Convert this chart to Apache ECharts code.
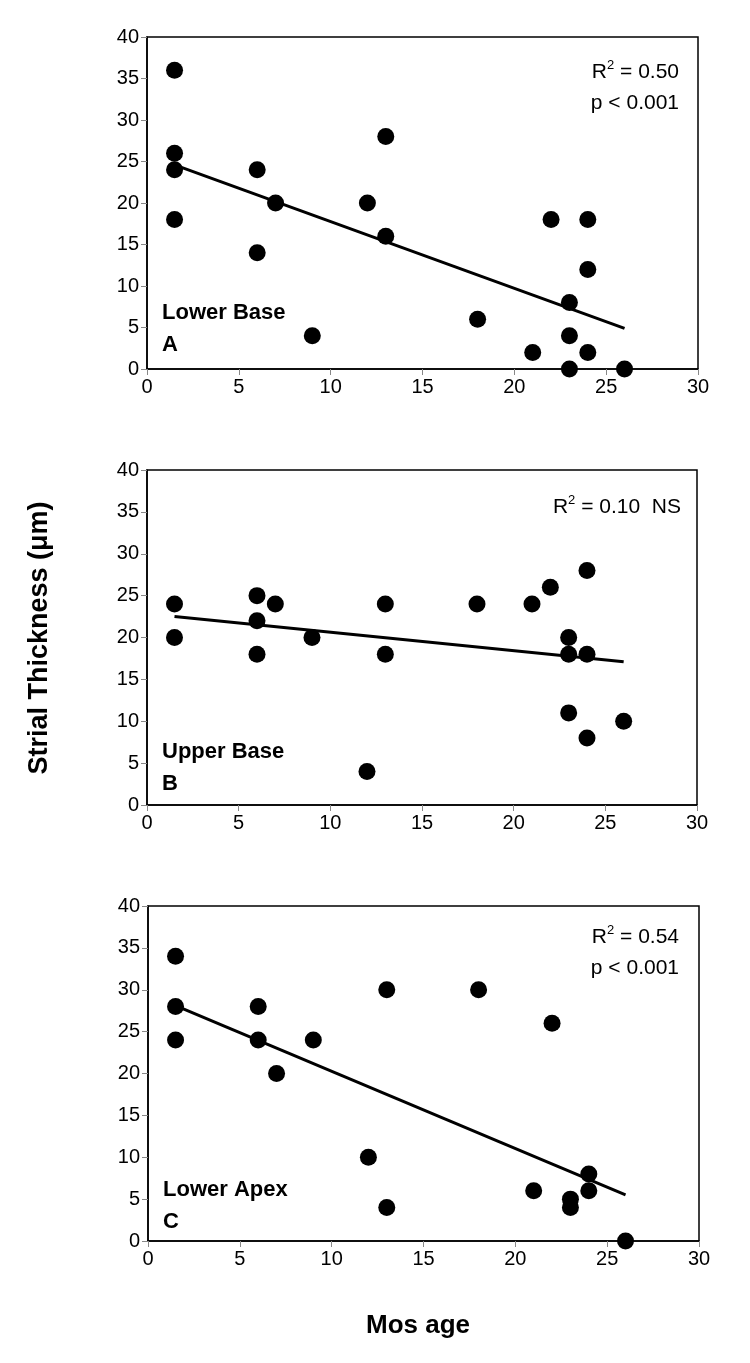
<!DOCTYPE html>
<html>
<head>
<meta charset="utf-8">
<script src="https://cdn.jsdelivr.net/npm/echarts@6/dist/echarts.min.js"></script>
<style>
html,body{margin:0;padding:0;background:#fff;}
#chart{width:750px;height:1363px;}
</style>
</head>
<body>
<div id="chart"></div>
<script>
// ---- Data ----
var xTicks = [0, 5, 10, 15, 20, 25, 30];
var yTicks = [0, 5, 10, 15, 20, 25, 30, 35, 40];

var ageA   = [1.5, 1.5, 1.5, 1.5, 6, 6, 7, 9, 12, 13, 13, 18, 21, 22, 23, 23, 23, 24, 24, 24, 26];
var thickA = [36, 26, 24, 18, 24, 14, 20, 4, 20, 28, 16, 6, 2, 18, 8, 4, 0, 18, 12, 2, 0];
var trendAgeA = [1.5, 26];
var trendThickA = [24.6, 4.9];

var ageB   = [1.5, 1.5, 6, 6, 6, 7, 9, 12, 13, 13, 18, 21, 22, 23, 23, 23, 24, 24, 24, 26];
var thickB = [24, 20, 25, 22, 18, 24, 20, 4, 24, 18, 24, 24, 26, 20, 18, 11, 28, 18, 8, 10];
var trendAgeB = [1.5, 26];
var trendThickB = [22.5, 17.1];

var ageC   = [1.5, 1.5, 1.5, 6, 6, 7, 9, 12, 13, 13, 18, 21, 22, 23, 23, 24, 24, 26];
var thickC = [34, 28, 24, 28, 24, 20, 24, 10, 30, 4, 30, 6, 26, 5, 4, 8, 6, 0];
var trendAgeC = [1.5, 26];
var trendThickC = [28.1, 5.5];

var panelNames = ["Lower Base", "Upper Base", "Lower Apex"];
var panelLetters = ["A", "B", "C"];
var r2Values = ["0.50", "0.10", "0.54"];
var pTexts = ["p < 0.001", "NS", "p < 0.001"];
var yTitle = "Strial Thickness (\u03bcm)";
var xTitle = "Mos age";

// ---- Build ----
function pairs(xs, ys) { return xs.map(function (x, i) { return [x, ys[i]]; }); }
var FONT = "'Liberation Sans', Arial, sans-serif";

var grids = [
  {left: 147, width: 551, top: 37, height: 332},
  {left: 147, width: 550, top: 470, height: 335},
  {left: 148, width: 551, top: 906, height: 335}
];

var scatterSets = [pairs(ageA, thickA), pairs(ageB, thickB), pairs(ageC, thickC)];
var trendSets = [pairs(trendAgeA, trendThickA), pairs(trendAgeB, trendThickB), pairs(trendAgeC, trendThickC)];

var option = {
  backgroundColor: '#fff',
  animation: false,
  grid: grids.map(function (g) {
    return Object.assign({show: true, borderColor: '#000', borderWidth: 1.5, backgroundColor: 'transparent'}, g);
  }),
  xAxis: grids.map(function (g, i) {
    return {
      type: 'value', gridIndex: i, min: xTicks[0], max: xTicks[xTicks.length - 1], interval: 5,
      axisLine: {show: true, onZero: false, lineStyle: {color: '#000', width: 1.5}},
      axisTick: {show: true, inside: false, length: 6, lineStyle: {color: '#888', width: 1}},
      axisLabel: {color: '#000', fontSize: 20, fontFamily: FONT, margin: 8},
      splitLine: {show: false}
    };
  }),
  yAxis: grids.map(function (g, i) {
    return {
      type: 'value', gridIndex: i, min: yTicks[0], max: yTicks[yTicks.length - 1], interval: 5,
      axisLine: {show: true, onZero: false, lineStyle: {color: '#000', width: 1.5}},
      axisTick: {show: true, inside: false, length: 6, lineStyle: {color: '#888', width: 1}},
      axisLabel: {color: '#000', fontSize: 20, fontFamily: FONT, margin: 8},
      splitLine: {show: false}
    };
  }),
  series: [],
  graphic: []
};

for (var i = 0; i < 3; i++) {
  option.series.push({
    type: 'scatter', xAxisIndex: i, yAxisIndex: i, data: scatterSets[i],
    symbol: 'circle', symbolSize: 17, itemStyle: {color: '#000', opacity: 1}, z: 3
  });
  option.series.push({
    type: 'line', xAxisIndex: i, yAxisIndex: i, data: trendSets[i],
    showSymbol: false, symbol: 'none', lineStyle: {color: '#000', width: 3}, z: 2
  });
}

var rich = {
  a: {fontSize: 21, fontFamily: FONT, color: '#000', lineHeight: 26},
  s: {fontSize: 13, fontFamily: FONT, color: '#000', lineHeight: 26, verticalAlign: 'top'}
};

// annotation positions
var annot = [
  {rx: 679, ry: 72, py: 103, inline: false},
  {rx: 681, ry: 507, inline: true},
  {rx: 679, ry: 937, py: 968, inline: false}
];
var labelPos = [
  {x: 162, y1: 313, y2: 345},
  {x: 162, y1: 752, y2: 784},
  {x: 163, y1: 1190, y2: 1222}
];

for (var k = 0; k < 3; k++) {
  var an = annot[k];
  var r2text = an.inline
    ? '{a|R}{s|2}{a| = ' + r2Values[k] + '  ' + pTexts[k] + '}'
    : '{a|R}{s|2}{a| = ' + r2Values[k] + '}';
  option.graphic.push({
    type: 'text', x: an.rx, y: an.ry, z: 10,
    style: {text: r2text, rich: rich, textAlign: 'right', textVerticalAlign: 'middle', align: 'right', verticalAlign: 'middle'}
  });
  if (!an.inline) {
    option.graphic.push({
      type: 'text', x: an.rx, y: an.py, z: 10,
      style: {text: pTexts[k], font: '21px ' + FONT, fill: '#000', textAlign: 'right', textVerticalAlign: 'middle', align: 'right', verticalAlign: 'middle'}
    });
  }
  var lp = labelPos[k];
  option.graphic.push({
    type: 'text', x: lp.x, y: lp.y1, z: 10,
    style: {text: panelNames[k], font: 'bold 22px ' + FONT, fill: '#000', textAlign: 'left', textVerticalAlign: 'middle', align: 'left', verticalAlign: 'middle'}
  });
  option.graphic.push({
    type: 'text', x: lp.x, y: lp.y2, z: 10,
    style: {text: panelLetters[k], font: 'bold 22px ' + FONT, fill: '#000', textAlign: 'left', textVerticalAlign: 'middle', align: 'left', verticalAlign: 'middle'}
  });
}

option.graphic.push({
  type: 'text', x: 40, y: 638, rotation: Math.PI / 2, z: 10,
  style: {text: yTitle, font: 'bold 27px ' + FONT, fill: '#000', textAlign: 'center', textVerticalAlign: 'middle', align: 'center', verticalAlign: 'middle'}
});
option.graphic.push({
  type: 'text', x: 418, y: 1326, z: 10,
  style: {text: xTitle, font: 'bold 26px ' + FONT, fill: '#000', textAlign: 'center', textVerticalAlign: 'middle', align: 'center', verticalAlign: 'middle'}
});

var chart = echarts.init(document.getElementById('chart'), null, {renderer: 'canvas'});
chart.setOption(option);
</script>
</body>
</html>
